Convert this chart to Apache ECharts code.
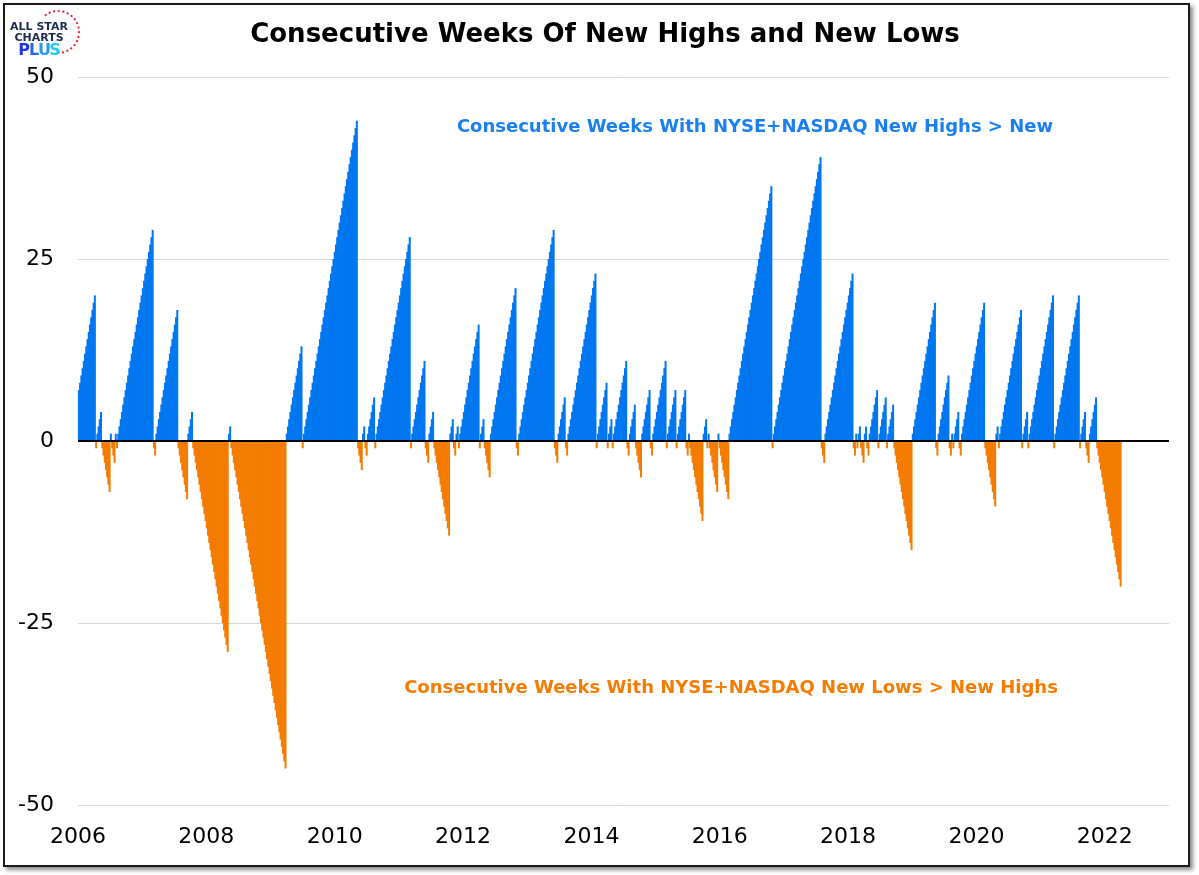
<!DOCTYPE html>
<html><head><meta charset="utf-8">
<script src="https://cdn.jsdelivr.net/npm/echarts@6/dist/echarts.min.js"></script>
<style>
html,body{margin:0;padding:0;background:#fff;overflow:hidden;}
#frame{position:absolute;left:3px;top:3px;width:1187px;height:864px;box-sizing:border-box;border:2px solid #1a1a1a;box-shadow:3px 3px 4px rgba(0,0,0,0.45);background:#fff;}
#chart{position:absolute;left:0;top:0;width:1199px;height:875px;}
</style></head><body>
<div id="frame"></div>
<div id="chart"></div>
<script>
// Signed run lengths of consecutive weeks (positive = New Highs > New Lows, negative = New Lows > New Highs)
const runs = [
  20, -1, 4, -7, 1, -3, 1, -1, 29, -2, 18, -8, 4, -29, 2, -45,
  13, -1, 44, -4, 2, -2, 6, -1, 28, -1, 11, -3, 4, -13,
  3, -2, 2, -1, 16, -1, 3, -5, 21, -2, 29, -3, 6, -2, 23, -1, 8, -1, 3, -1, 11,
  -2, 5, -5, 7, -2, 11, -1, 7, -1, 7, -2, 1, -11, 3, -1, 1, -7, 1, -8, 35, -1, 39,
  -3, 23, -2, 1, -1, 2, -3, 2, -2, 7, -1, 6, -1, 5, -15, 19, -2, 9, -2, 1, -1, 4, -2, 19, -9,
  2, -1, 18, -1, 4, -1, 20, -1, 20, -1, 4, -3, 6, -20
];
// the first run was already under way when the chart starts
const firstRunStart = 7;
const firstWeek = 2006 + 5 / 365.25;   // week ending 6 Jan 2006
const yTicks = [-50, -25, 0, 25, 50];
const xYears = [2006, 2008, 2010, 2012, 2014, 2016, 2018, 2020, 2022];

const titleText = 'Consecutive Weeks Of New Highs and New Lows';
const highsText = 'Consecutive Weeks With NYSE+NASDAQ New Highs > New';
const lowsText = 'Consecutive Weeks With NYSE+NASDAQ New Lows > New Highs';

const BLUE = '#0077F0';
const ORANGE = '#F47C00';

const weekly = [];
runs.forEach((r, k) => {
  const n = Math.abs(r), s = Math.sign(r);
  for (let v = (k === 0 ? firstRunStart : 1); v <= n; v++) weekly.push(s * v);
});
const data = weekly.map((v, i) => [firstWeek + i * 7 / 365.25, v]);

const chart = echarts.init(document.getElementById('chart'));
chart.setOption({
  backgroundColor: 'transparent',
  animation: false,
  grid: { left: 78, right: 30, top: 77, bottom: 70 },
  xAxis: {
    type: 'value', min: xYears[0], max: 2023, interval: 2,
    axisLine: { show: false }, axisTick: { show: false }, splitLine: { show: false },
    axisLabel: { color: '#000', fontSize: 22, fontFamily: 'DejaVu Sans', margin: 21, showMaxLabel: false,
      formatter: v => xYears.includes(v) ? String(v) : '' }
  },
  yAxis: {
    type: 'value', min: yTicks[0], max: yTicks[yTicks.length - 1], interval: 25,
    axisLine: { show: false }, axisTick: { show: false },
    splitLine: { lineStyle: { color: '#d6d6d6', width: 1 } },
    axisLabel: { color: '#000', fontSize: 22, fontFamily: 'DejaVu Sans', margin: 24 }
  },
  series: [{
    type: 'bar',
    data: data,
    barWidth: 2,
    itemStyle: { color: p => p.value[1] > 0 ? BLUE : ORANGE },
    markLine: {
      silent: true, symbol: 'none', label: { show: false },
      lineStyle: { color: '#000', width: 2, type: 'solid' },
      data: [{ yAxis: 0 }]
    }
  }],
  graphic: [
    { type: 'text', style: { text: titleText, x: 605, y: 35, align: 'center', verticalAlign: 'middle',
      font: 'bold 26px "DejaVu Sans"', fill: '#000' } },
    { type: 'text', style: { text: highsText, x: 755, y: 127, align: 'center', verticalAlign: 'middle',
      font: 'bold 18px "DejaVu Sans"', fill: '#1a7ff0' } },
    { type: 'text', style: { text: lowsText, x: 731, y: 688, align: 'center', verticalAlign: 'middle',
      font: 'bold 18px "DejaVu Sans"', fill: '#F47C00' } },
    // logo
    { type: 'arc', shape: { cx: 58, cy: 32, r: 21, startAngle: -2.2, endAngle: 1.62 },
      style: { stroke: '#e8203a', lineWidth: 2.2, lineDash: [0.1, 4.5], lineCap: 'round', fill: null } },
    { type: 'text', style: { text: 'ALL STAR', x: 39, y: 27, align: 'center', verticalAlign: 'middle',
      font: '600 11px "DejaVu Sans"', fill: '#1d2b4f' } },
    { type: 'text', style: { text: 'CHARTS', x: 39, y: 38, align: 'center', verticalAlign: 'middle',
      font: '600 11px "DejaVu Sans"', fill: '#1d2b4f' } },
    { type: 'text', style: { text: 'P', x: 24, y: 51, align: 'center', verticalAlign: 'middle',
      font: 'bold 16px "DejaVu Sans"', fill: '#2233dd' } },
    { type: 'text', style: { text: 'L', x: 34, y: 51, align: 'center', verticalAlign: 'middle',
      font: 'bold 16px "DejaVu Sans"', fill: '#2a66e6' } },
    { type: 'text', style: { text: 'U', x: 44.5, y: 51, align: 'center', verticalAlign: 'middle',
      font: 'bold 16px "DejaVu Sans"', fill: '#2699ec' } },
    { type: 'text', style: { text: 'S', x: 55, y: 51, align: 'center', verticalAlign: 'middle',
      font: 'bold 16px "DejaVu Sans"', fill: '#22c8f0' } }
  ]
});
</script>
</body></html>
